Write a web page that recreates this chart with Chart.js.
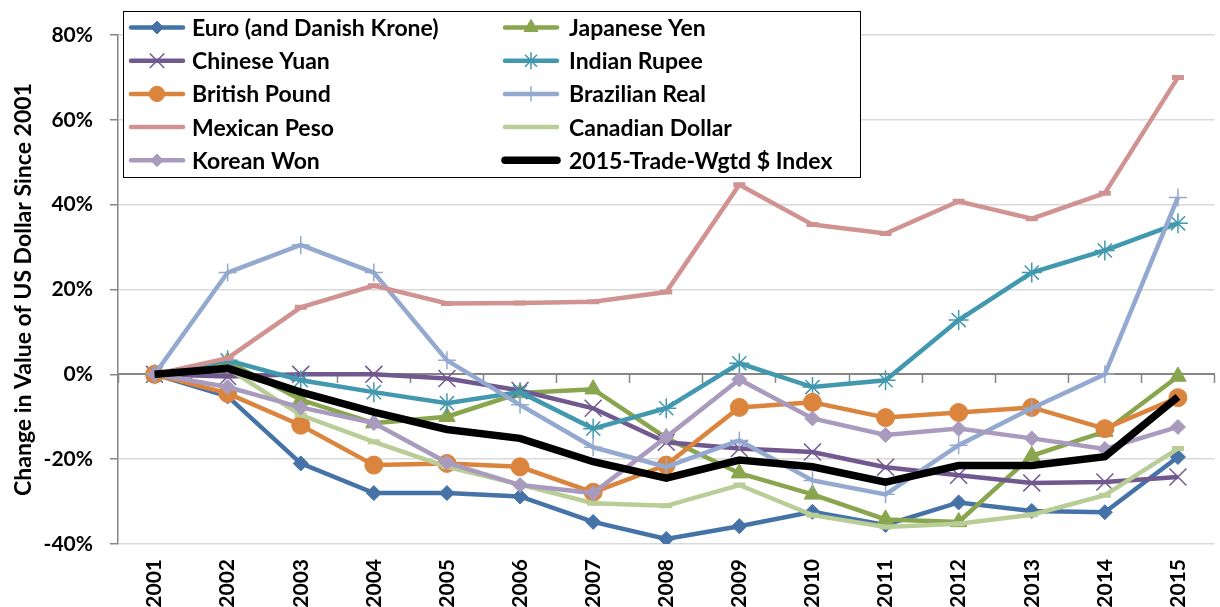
<!DOCTYPE html>
<html>
<head>
<meta charset="utf-8">
<title>Change in Value of US Dollar Since 2001</title>
<script src="https://cdn.jsdelivr.net/npm/chart.js@4.4.1/dist/chart.umd.min.js"></script>
<style>
  html, body { margin: 0; padding: 0; background: #fff; overflow: hidden; }
  #wrap { position: relative; width: 1228px; height: 607px; }
</style>
</head>
<body>
<div id="wrap"><canvas id="fxChart"></canvas></div>
<script>
// Yearly change in the value of the US dollar against each currency, in %
const years = ['2001', '2002', '2003', '2004', '2005', '2006', '2007', '2008',
               '2009', '2010', '2011', '2012', '2013', '2014', '2015'];

const euro   = [0, -5.2, -21, -28, -28, -28.8, -34.8, -38.8, -35.8, -32.4, -35.5, -30.2, -32.2, -32.5, -19.5];
const yen    = [0, 3, -6, -11.5, -10, -4.4, -3.5, -15, -23.3, -28.3, -34.2, -34.8, -19.2, -13.5, -0.5];
const yuan   = [0, -0.5, 0, 0, -1, -3.8, -8, -16, -17.5, -18.3, -21.9, -23.8, -25.6, -25.4, -24.2];
const rupee  = [0, 3.3, -1.4, -4.2, -6.8, -4.2, -12.8, -8, 2.6, -3, -1.4, 12.8, 24, 29.2, 35.6];
const pound  = [0, -4.5, -12, -21.4, -21, -21.8, -27.8, -21.4, -7.8, -6.6, -10.2, -9, -7.8, -12.8, -5.5];
const real   = [0, 24, 30.5, 24, 3.3, -7.2, -17.2, -21.8, -15.6, -25, -28.3, -16.7, -8, 0, 41.7];
const peso   = [0, 3.8, 15.8, 20.9, 16.7, 16.8, 17.1, 19.4, 44.7, 35.3, 33.2, 40.8, 36.7, 42.7, 70];
const cad    = [0, 1.4, -9.6, -15.9, -21.8, -26, -30.4, -31, -26.1, -33.2, -36, -35.2, -33.1, -28.5, -17.5];
const won    = [0, -3, -7.8, -11.5, -20.8, -26.1, -28, -14.8, -1.2, -10.4, -14.3, -12.8, -15.1, -17.6, -12.4];
const index  = [0, 1.4, -4.2, -8.9, -13, -15.1, -20.6, -24.5, -20.2, -21.8, -25.4, -21.5, -21.5, -19.4, -5.3];

const yTickValues = [-40, -20, 0, 20, 40, 60, 80];

const FONT = 'Lato, "Liberation Sans", sans-serif';

// Series in legend order (filled row by row, two per row)
const series = [
    { label: 'Euro (and Danish Krone)', data: euro,  color: '#4572A7', style: 'rectRot',  radius: 7.5 },
    { label: 'Japanese Yen',            data: yen,   color: '#89A54E', style: 'triangle', radius: 9.5 },
    { label: 'Chinese Yuan',            data: yuan,  color: '#71588F', style: 'crossRot', radius: 12, pbw: 1.5 },
    { label: 'Indian Rupee',            data: rupee, color: '#4198AF', style: 'star',     radius: 10, pbw: 1.5 },
    { label: 'British Pound',           data: pound, color: '#DB843D', style: 'circle',   radius: 9 },
    { label: 'Brazilian Real',          data: real,  color: '#93A9CF', style: 'cross',    radius: 9, pbw: 1.5 },
    { label: 'Mexican Peso',            data: peso,  color: '#D19392', style: 'line',     radius: 6, pbw: 5 },
    { label: 'Canadian Dollar',         data: cad,   color: '#B9CD96', style: 'line',     radius: 6, pbw: 5 },
    { label: 'Korean Won',              data: won,   color: '#A99BBD', style: 'rectRot',  radius: 7.5 },
    { label: '2015-Trade-Wgtd $ Index', data: index, color: '#000000', style: false,      radius: 0, width: 7.5 }
];

const datasets = series.map((s, i) => ({
    label: s.label,
    data: s.data,
    xAxisID: 'x',
    borderColor: s.color,
    backgroundColor: s.color,
    borderWidth: s.width || 4.5,
    pointStyle: s.style,
    pointRadius: s.radius,
    pointBackgroundColor: s.color,
    pointBorderColor: s.color,
    pointBorderWidth: s.pbw || 1,
    tension: 0,
    fill: false,
    order: series.length - i   // later series paint on top
}));

// Boxed two-column legend inside the plot
const gridLegend = {
    id: 'gridLegend',
    afterDraw(chart) {
        const ctx = chart.ctx;
        ctx.save();
        ctx.fillStyle = '#ffffff';
        ctx.fillRect(123.5, 11.5, 737, 166);
        ctx.strokeStyle = '#000000';
        ctx.lineWidth = 1;
        ctx.strokeRect(123.5, 11.5, 737, 166);

        ctx.font = 'bold 23px ' + FONT;
        ctx.textBaseline = 'middle';
        ctx.textAlign = 'left';

        chart.data.datasets.forEach((ds, i) => {
            const col = i % 2;
            const row = Math.floor(i / 2);
            const x0 = col ? 505 : 131;
            const textX = col ? 569 : 192;
            const y = 27.5 + row * 33.2;

            ctx.strokeStyle = ds.borderColor;
            ctx.lineWidth = ds.borderWidth;
            ctx.lineCap = 'round';
            ctx.beginPath();
            ctx.moveTo(x0, y);
            ctx.lineTo(x0 + 52, y);
            ctx.stroke();

            if (ds.pointStyle && ds.pointStyle !== 'line' && Chart.helpers && Chart.helpers.drawPoint) {
                ctx.lineCap = 'butt';
                ctx.fillStyle = ds.pointBackgroundColor;
                ctx.strokeStyle = ds.pointBorderColor;
                ctx.lineWidth = ds.pointBorderWidth;
                Chart.helpers.drawPoint(ctx, {
                    pointStyle: ds.pointStyle,
                    radius: ds.pointRadius * 0.85,
                    rotation: 0,
                    borderWidth: ds.pointBorderWidth
                }, x0 + 26, y);
            }

            ctx.fillStyle = '#000000';
            ctx.fillText(ds.label, textX, y + 1);
        });
        ctx.restore();
    }
};

new Chart(document.getElementById('fxChart'), {
    type: 'line',
    data: { labels: years, datasets },
    plugins: [gridLegend],
    options: {
        responsive: true,
        maintainAspectRatio: false,
        animation: false,
        devicePixelRatio: 1,
        layout: { padding: { top: 35, right: 0, bottom: 0, left: 0 } },
        plugins: {
            legend: { display: false },
            tooltip: { enabled: false }
        },
        scales: {
            x: {
                type: 'category',
                position: 'bottom',
                offset: true,
                grid: { display: false, offset: true },
                border: { display: false },
                ticks: {
                    autoSkip: false,
                    minRotation: 90,
                    maxRotation: 90,
                    padding: 7,
                    color: '#000000',
                    font: { family: FONT, size: 21, weight: 'bold' }
                },
                afterFit(scale) { scale.height = 63; }
            },
            // category axis line crossing at 0%
            x2: {
                type: 'category',
                axis: 'x',
                labels: years,
                position: { y: 0 },
                offset: true,
                grid: {
                    display: true,
                    offset: true,
                    drawOnChartArea: false,
                    drawTicks: true,
                    tickLength: 8,
                    tickColor: '#868686',
                    tickWidth: 1.5
                },
                border: { display: true, color: '#868686', width: 2 },
                ticks: { display: false }
            },
            y: {
                min: yTickValues[0],
                max: yTickValues[yTickValues.length - 1],
                afterBuildTicks(scale) {
                    scale.ticks = yTickValues.map(v => ({ value: v }));
                },
                grid: {
                    color: ctx => (ctx.tick && ctx.tick.value === 0) ? 'rgba(0,0,0,0)' : '#D9D9D9',
                    lineWidth: 1.5,
                    tickLength: 8,
                    tickColor: '#868686',
                    tickWidth: 1.5
                },
                border: { display: true, color: '#868686', width: 1.5 },
                ticks: {
                    padding: 17,
                    color: '#000000',
                    font: { family: FONT, size: 21, weight: 'bold' },
                    callback: v => v + '%'
                },
                title: {
                    display: true,
                    text: 'Change in Value of US Dollar Since 2001',
                    color: '#000000',
                    font: { family: FONT, size: 23, weight: 'bold' },
                    padding: { top: 10, bottom: 0 }
                },
                afterFit(scale) { scale.width = 118; }
            }
        }
    }
});
</script>
</body>
</html>
